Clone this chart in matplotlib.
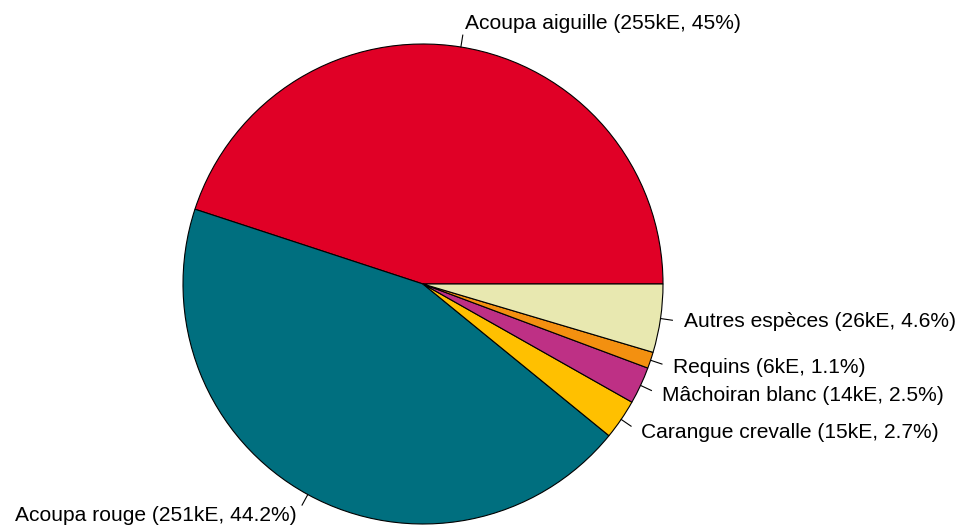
import numpy as np
import matplotlib
matplotlib.use('Agg')
import matplotlib.pyplot as plt

# Données du graphique
especes = ['Acoupa aiguille', 'Acoupa rouge', 'Carangue crevalle',
           'Mâchoiran blanc', 'Requins', 'Autres espèces']
valeurs_kE = [255, 251, 15, 14, 6, 26]
pourcents = [45, 44.2, 2.7, 2.5, 1.1, 4.6]
couleurs = ['#E00026', '#006F7F', '#FFC000', '#BE3085', '#F39010', '#E8E8B0']

plt.rcParams['font.family'] = ['Liberation Sans', 'DejaVu Sans']

W, H = 968, 530
fig = plt.figure(figsize=(W / 100, H / 100), dpi=100)
ax = fig.add_axes([0, 0, 1, 1])

cx, cy, r = 423, H - 284, 240

wedges, _ = ax.pie(pourcents, colors=couleurs, startangle=0, counterclock=True,
                   center=(cx, cy), radius=r, frame=True,
                   wedgeprops=dict(edgecolor='black', linewidth=0.8))
ax.set_xlim(0, W)
ax.set_ylim(0, H)
ax.set_aspect('equal')
ax.axis('off')

# Étiquettes à la manière de pie() de R
for w, nom, v, p in zip(wedges, especes, valeurs_kE, pourcents):
    a = np.deg2rad((w.theta1 + w.theta2) / 2)
    c, s = np.cos(a), np.sin(a)
    ax.plot([cx + r * c, cx + 1.05 * r * c], [cy + r * s, cy + 1.05 * r * s],
            color='black', lw=0.8)
    lab = f'{nom} ({v}kE, {p:g}%)'
    ax.text(cx + 1.1 * r * c, cy + 1.1 * r * s, lab,
            ha='left' if c > 0 else 'right', va='center', fontsize=15.1)

fig.savefig('out.png', dpi=100)
